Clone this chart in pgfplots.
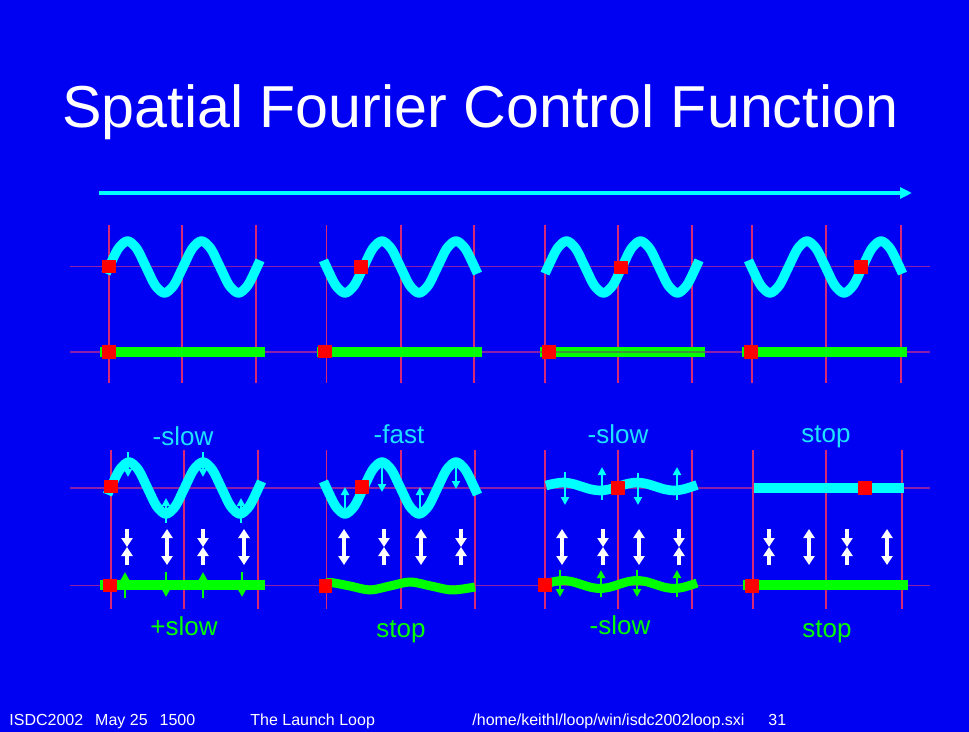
\documentclass[border=0pt]{standalone}
\usepackage{pgfplots}
\pgfplotsset{compat=1.18}
\usetikzlibrary{arrows.meta}
\usepackage{fontspec}
\setmainfont{Liberation Sans}

\definecolor{bg}{RGB}{0,0,242}
\definecolor{cy}{RGB}{0,255,255}
\definecolor{cylbl}{RGB}{30,225,255}
\definecolor{gr}{RGB}{0,255,0}
\definecolor{rd}{RGB}{255,0,0}
\definecolor{vline}{RGB}{215,40,120}
\definecolor{hline}{RGB}{140,30,170}
\definecolor{stripe}{RGB}{60,150,60}

\tikzset{
  wave/.style={line width=4.8pt, smooth},
  bar/.style={line width=5pt},
  sq/.style={only marks, mark=square*, mark size=3.1pt, color=rd},
  warr/.style={white, line width=2pt, arrows={-Triangle[width=5.5pt,length=4.5pt]}},
  wdbl/.style={white, line width=2pt, arrows={Triangle[width=5.5pt,length=4.5pt]-Triangle[width=5.5pt,length=4.5pt]}},
  sarr/.style={line width=1pt, arrows={-Triangle[width=4pt,length=4pt]}},
  lbl/.style={font=\fontsize{13}{15}\selectfont, anchor=base, inner sep=0pt},
  foot/.style={font=\fontsize{8}{10}\selectfont, anchor=base west, white, inner sep=0pt},
}

\begin{document}
\begin{tikzpicture}
\begin{axis}[hide axis, scale only axis, width=484.5pt, height=366pt,
  xmin=0, xmax=969, ymin=0, ymax=732, y dir=reverse, clip=false,
  every axis plot/.append style={line join=round}]

% slide background
\addplot[draw=none, fill=bg] coordinates {(0,0) (969,0) (969,732) (0,732) (0,0)};

% direction arrow
\addplot[cy, line width=2pt, arrows={-Triangle[width=5.5pt,length=6pt]}] coordinates {(99,193) (912,193)};

% grid
\addplot[hline, line width=0.6pt, unbounded coords=jump] coordinates {
  (70,266.5) (930,266.5) (930,nan)
  (70,352) (930,352) (930,nan)
  (70,488) (930,488) (930,nan)
  (70,585.5) (930,585.5)};
\addplot[vline, line width=0.6pt, unbounded coords=jump] coordinates {
  (109,225) (109,383) (109,nan) (182,225) (182,383) (182,nan) (256,225) (256,383) (256,nan)
  (326.5,225) (326.5,383) (326.5,nan) (401,225) (401,383) (401,nan) (474,225) (474,383) (474,nan)
  (545,225) (545,383) (545,nan) (618,225) (618,383) (618,nan) (692,225) (692,383) (692,nan)
  (752,225) (752,383) (752,nan) (826,225) (826,383) (826,nan) (901,225) (901,383) (901,nan)
  (111,450) (111,609) (111,nan) (184,450) (184,609) (184,nan) (258,450) (258,609) (258,nan)
  (326.5,450) (326.5,609) (326.5,nan) (401,450) (401,609) (401,nan) (475,450) (475,609) (475,nan)
  (545,450) (545,609) (545,nan) (618,450) (618,609) (618,nan) (692,450) (692,609) (692,nan)
  (753,450) (753,609) (753,nan) (826,450) (826,609) (826,nan) (902,450) (902,609)};

% ---- top block: waves
\addplot[cy, wave] coordinates {(106,273.6) (109,267) (118.25,248.6) (127.5,241) (136.75,248.6) (146,267) (155.25,285.4) (164.5,293) (173.75,285.4) (183,267) (192.25,248.6) (201.5,241) (210.75,248.6) (220,267) (229.25,285.4) (238.5,293) (247.75,285.4) (257,267) (260,260.4)};
\addplot[cy, wave] coordinates {(323.5,260.4) (326.5,267) (335.75,285.4) (345,293) (354.25,285.4) (363.5,267) (372.75,248.6) (382,241) (391.25,248.6) (400.5,267) (409.75,285.4) (419,293) (428.25,285.4) (437.5,267) (446.75,248.6) (456,241) (465.25,248.6) (474.5,267) (477.5,273.6)};
\addplot[cy, wave] coordinates {(545,273.6) (548,267) (557.25,248.6) (566.5,241) (575.75,248.6) (585,267) (594.25,285.4) (603.5,293) (612.75,285.4) (622,267) (631.25,248.6) (640.5,241) (649.75,248.6) (659,267) (668.25,285.4) (677.5,293) (686.75,285.4) (696,267) (699,260.4)};
\addplot[cy, wave] coordinates {(748.5,260.4) (751.5,267) (760.75,285.4) (770,293) (779.25,285.4) (788.5,267) (797.75,248.6) (807,241) (816.25,248.6) (825.5,267) (834.75,285.4) (844,293) (853.25,285.4) (862.5,267) (871.75,248.6) (881,241) (890.25,248.6) (899.5,267) (902.5,273.6)};

% ---- top block: green bars
\addplot[gr, bar] coordinates {(100,352) (265,352)};
\addplot[gr, bar] coordinates {(317,352) (482,352)};
\addplot[gr, bar] coordinates {(540,352) (705,352)};
\addplot[stripe, line width=0.7pt] coordinates {(540,352) (705,352)};
\addplot[gr, bar] coordinates {(742,352) (907,352)};

% ---- bottom block: cyan row
\addplot[cy, wave] coordinates {(107.5,494.6) (110.5,488) (119.75,469.6) (129,462) (138.25,469.6) (147.5,488) (156.75,506.4) (166,514) (175.25,506.4) (184.5,488) (193.75,469.6) (203,462) (212.25,469.6) (221.5,488) (230.75,506.4) (240,514) (249.25,506.4) (258.5,488) (261.5,481.4)};
\addplot[cy, wave] coordinates {(323.5,481.4) (326.5,488) (335.75,506.4) (345,514) (354.25,506.4) (363.5,488) (372.75,469.6) (382,462) (391.25,469.6) (400.5,488) (409.75,506.4) (419,514) (428.25,506.4) (437.5,488) (446.75,469.6) (456,462) (465.25,469.6) (474.5,488) (477.5,494.6)};
\addplot[cy, wave] coordinates {(546,485.5) (553.75,483.7) (563,482.5) (572.25,483.7) (581.5,486.5) (590.75,489.3) (600,490.5) (609.25,489.3) (618.5,486.5) (627.75,483.7) (637,482.5) (646.25,483.7) (655.5,486.5) (664.75,489.3) (674,490.5) (683.25,489.3) (692.5,486.5) (697,485)};
\addplot[cy, bar] coordinates {(754,487.7) (904,487.7)};

% ---- bottom block: green row
\addplot[gr, bar] coordinates {(100,585) (265,585)};
\addplot[gr, line width=4.5pt, smooth] coordinates {(326,583.5) (331,582.5) (350,586) (370,590) (390,586) (410,582) (431,586) (452,590) (475,587)};
\addplot[gr, line width=4.5pt, smooth] coordinates {(546,584) (553.75,581.7) (563,580.5) (572.25,581.7) (581.5,584.5) (590.75,587.3) (600,588.5) (609.25,587.3) (618.5,584.5) (627.75,581.7) (637,580.5) (646.25,581.7) (655.5,584.5) (664.75,587.3) (674,588.5) (683.25,587.3) (692.5,584.5) (697,583)};
\addplot[gr, bar] coordinates {(743,585) (908,585)};

% ---- small cyan arrows
\addplot[cy, sarr] coordinates {(128,452) (128,477)};
\addplot[cy, sarr] coordinates {(203,452) (203,477)};
\addplot[cy, sarr] coordinates {(166,523) (166,498)};
\addplot[cy, sarr] coordinates {(241,523) (241,498)};
\addplot[cy, sarr] coordinates {(345,513) (345,487)};
\addplot[cy, sarr] coordinates {(382,462) (382,492)};
\addplot[cy, sarr] coordinates {(420,512) (420,487)};
\addplot[cy, sarr] coordinates {(456,466) (456,489)};
\addplot[cy, sarr] coordinates {(565,472) (565,505)};
\addplot[cy, sarr] coordinates {(602,500) (602,467)};
\addplot[cy, sarr] coordinates {(638,473) (638,505)};
\addplot[cy, sarr] coordinates {(677,500) (677,467)};

% ---- small green arrows
\addplot[gr, sarr] coordinates {(125,598) (125,572)};
\addplot[gr, sarr] coordinates {(166,572) (166,597)};
\addplot[gr, sarr] coordinates {(203,598) (203,572)};
\addplot[gr, sarr] coordinates {(242,572) (242,597)};
\addplot[gr, sarr] coordinates {(560,570) (560,597)};
\addplot[gr, sarr] coordinates {(601,597) (601,570)};
\addplot[gr, sarr] coordinates {(637,570) (637,597)};
\addplot[gr, sarr] coordinates {(677,597) (677,570)};

% ---- white arrows: converging pairs
\addplot[warr] coordinates {(127,529) (127,547)};  \addplot[warr] coordinates {(127,565) (127,547)};
\addplot[warr] coordinates {(203,529) (203,547)};  \addplot[warr] coordinates {(203,565) (203,547)};
\addplot[warr] coordinates {(384,529) (384,547)};  \addplot[warr] coordinates {(384,565) (384,547)};
\addplot[warr] coordinates {(461,529) (461,547)};  \addplot[warr] coordinates {(461,565) (461,547)};
\addplot[warr] coordinates {(603,529) (603,547)};  \addplot[warr] coordinates {(603,565) (603,547)};
\addplot[warr] coordinates {(679,529) (679,547)};  \addplot[warr] coordinates {(679,565) (679,547)};
\addplot[warr] coordinates {(769,529) (769,547)};  \addplot[warr] coordinates {(769,565) (769,547)};
\addplot[warr] coordinates {(847,529) (847,547)};  \addplot[warr] coordinates {(847,565) (847,547)};
% ---- white arrows: double headed
\addplot[wdbl] coordinates {(167,529) (167,565)};
\addplot[wdbl] coordinates {(244,529) (244,565)};
\addplot[wdbl] coordinates {(344,529) (344,565)};
\addplot[wdbl] coordinates {(421,529) (421,565)};
\addplot[wdbl] coordinates {(562,529) (562,565)};
\addplot[wdbl] coordinates {(639,529) (639,565)};
\addplot[wdbl] coordinates {(809,529) (809,565)};
\addplot[wdbl] coordinates {(887,529) (887,565)};

% ---- red position markers
\addplot[sq] coordinates {(109,266.5) (361,267) (621,267.5) (861,267)
  (109,352) (325,351.5) (549,352) (751,352)
  (111,486.5) (362,487) (618,488) (865,487.7)
  (110,585.5) (325.5,586) (545,585) (752,586)};

% ---- texts
\node[anchor=base west, inner sep=0pt, white, font=\fontsize{29.6}{35}\selectfont] at (axis cs:62,128) {Spatial Fourier Control Function};

\node[lbl, cylbl] at (axis cs:183,445) {-slow};
\node[lbl, cylbl] at (axis cs:399,444) {-fast};
\node[lbl, cylbl] at (axis cs:618,444) {-slow};
\node[lbl, cylbl] at (axis cs:826,443) {stop};
\node[lbl, gr] at (axis cs:184,635) {+slow};
\node[lbl, gr] at (axis cs:401,637) {stop};
\node[lbl, gr] at (axis cs:620,634) {-slow};
\node[lbl, gr] at (axis cs:827,637) {stop};

\node[foot] at (axis cs:9,725) {ISDC2002\hspace{6pt}May 25\hspace{6pt}1500};
\node[foot] at (axis cs:250,725) {The Launch Loop};
\node[foot] at (axis cs:472,725) {/home/keithl/loop/win/isdc2002loop.sxi};
\node[foot] at (axis cs:768,725) {31};
\end{axis}
\end{tikzpicture}
\end{document}
